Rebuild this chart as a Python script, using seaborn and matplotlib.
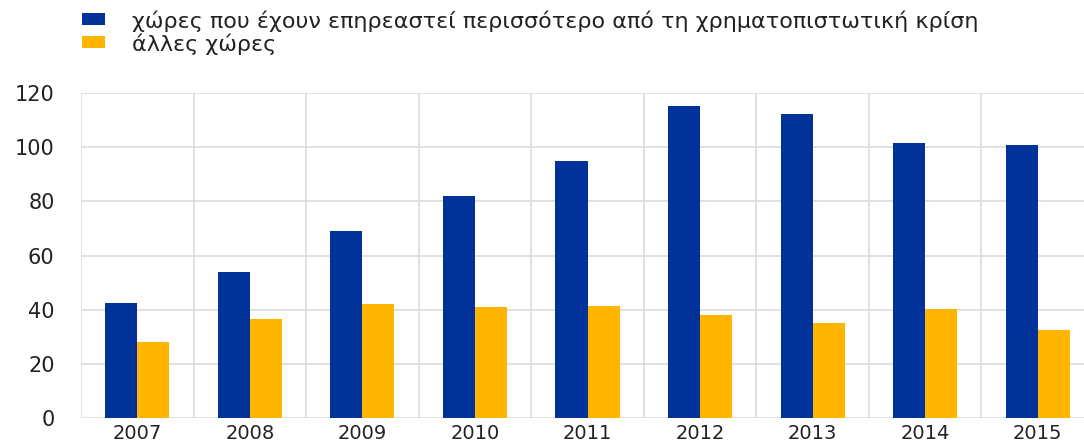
import matplotlib
matplotlib.use("Agg")
import matplotlib.pyplot as plt
from matplotlib.patches import Rectangle
from matplotlib.ticker import MultipleLocator
import seaborn as sns
import pandas as pd

years = ["2007", "2008", "2009", "2010", "2011", "2012", "2013", "2014", "2015"]
hit_hardest = [42.6, 54.0, 69.2, 82.1, 94.9, 115.1, 112.4, 101.5, 100.9]
other_countries = [28.1, 36.6, 42.1, 40.9, 41.2, 38.1, 35.1, 40.2, 32.5]
series_names = [
    "χώρες που έχουν επηρεαστεί περισσότερο από τη χρηματοπιστωτική κρίση",
    "άλλες χώρες",
]
colors = ["#003299", "#FFB400"]

df = pd.DataFrame({
    "year": years * 2,
    "value": hit_hardest + other_countries,
    "group": [series_names[0]] * len(years) + [series_names[1]] * len(years),
})

sns.set_theme(style="white")
plt.rcParams["font.family"] = ["DejaVu Sans"]

W, H = 1084, 443
fig = plt.figure(figsize=(W / 100, H / 100), dpi=100)
ax = fig.add_axes([81 / W, 25 / H, 1013 / W, 325 / H])

sns.barplot(data=df, x="year", y="value", hue="group", order=years,
            hue_order=series_names, palette=colors, width=0.57, gap=0,
            saturation=1, linewidth=0, ax=ax, legend=False)

ax.set_xlim(-0.5, len(years) - 0.5)
ax.set_ylim(0, 120)
ax.yaxis.set_major_locator(MultipleLocator(20))

# grid: horizontal at value ticks, vertical at category boundaries
for yv in range(0, 121, 20):
    ax.axhline(yv, color="#dcdcdc", lw=1.2, zorder=0)
for k in range(len(years) + 1):
    ax.axvline(k - 0.5, color="#dcdcdc", lw=1.2, zorder=0)

for s in ax.spines.values():
    s.set_visible(False)
ax.set_xlabel("")
ax.set_ylabel("")
ax.tick_params(axis="y", length=0, pad=19, labelsize=15, labelcolor="#222222")
ax.tick_params(axis="x", length=0, pad=4, labelsize=14, labelcolor="#222222")

# legend: colour squares with labels above the plot
legend_rows = [(19, series_names[0], colors[0]), (42, series_names[1], colors[1])]
for yc, label, col in legend_rows:
    fig.patches.append(Rectangle((82 / W, 1 - (yc + 6) / H), 23 / W, 12 / H,
                                 transform=fig.transFigure, facecolor=col,
                                 edgecolor="none"))
    fig.text(132 / W, 1 - yc / H, label, fontsize=16, color="#222222",
             ha="left", va="center_baseline")

fig.savefig("out.png", dpi=100)
